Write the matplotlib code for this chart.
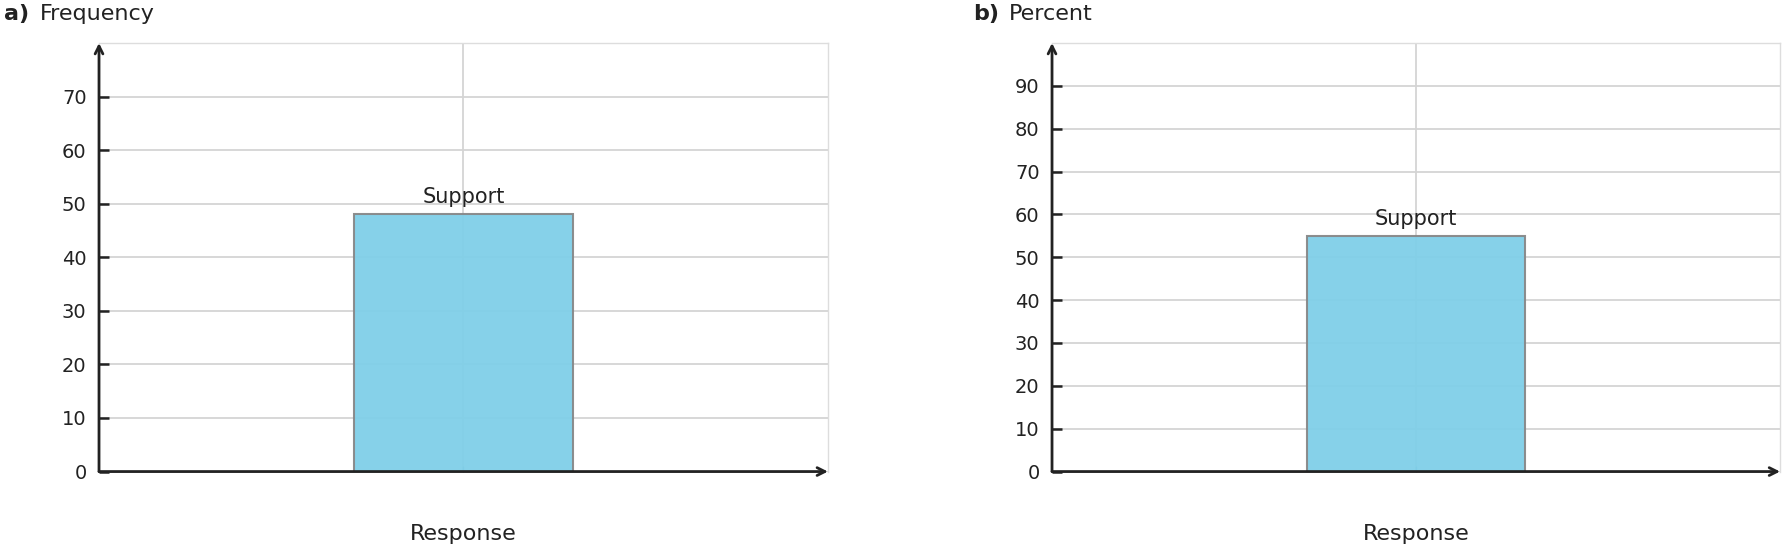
import matplotlib
matplotlib.use("Agg")
import matplotlib.pyplot as plt

plt.rcParams["font.family"] = ["DejaVu Sans"]

# data
categories = ["Support"]
frequency = [48]
percent = [55]
panel_letters = ["a)", "b)"]
panel_titles = ["Frequency", "Percent"]
xlabel = "Response"

ink = "#222222"
bar_color = "#80CFE8"

fig = plt.figure(figsize=(17.84, 5.48), dpi=100)
ax1 = fig.add_axes([0.0555, 0.1395, 0.4086, 0.7820])
ax2 = fig.add_axes([0.5897, 0.1395, 0.4081, 0.7820])

settings = [
    (ax1, frequency, 80, range(0, 80, 10)),
    (ax2, percent, 100, range(0, 100, 10)),
]

for ax, values, ymax, ticks in settings:
    ax.bar(categories, values, width=0.6, color=bar_color, alpha=0.95,
           edgecolor="#888888", linewidth=1.5, zorder=2)
    ax.set_xlim(-1, 1)
    ax.set_ylim(0, ymax)
    ax.set_yticks(list(ticks))
    ax.set_xticks([0])
    ax.set_xticklabels([""])
    ax.grid(True, color="#d4d4d4", linewidth=1.3, zorder=1)
    ax.set_axisbelow(True)
    for s in ["top", "right"]:
        ax.spines[s].set_color("#dddddd")
        ax.spines[s].set_linewidth(1)
    for s in ["left", "bottom"]:
        ax.spines[s].set_visible(False)
    ax.tick_params(axis="y", direction="in", length=7, width=1.8, color=ink,
                   labelsize=14, labelcolor=ink, pad=9)
    ax.tick_params(axis="x", direction="in", length=4, width=1, color="#6aaac4")
    ax.set_xlabel(xlabel, fontsize=16, color=ink, labelpad=34)
    # axis arrows
    ax.annotate("", xy=(0, 1), xytext=(0, 0), xycoords="axes fraction",
                arrowprops=dict(arrowstyle="->", color=ink, lw=2,
                                mutation_scale=14, shrinkA=0, shrinkB=0),
                annotation_clip=False, zorder=5)
    ax.annotate("", xy=(1, 0), xytext=(0, 0), xycoords="axes fraction",
                arrowprops=dict(arrowstyle="->", color=ink, lw=2,
                                mutation_scale=14, shrinkA=0, shrinkB=0),
                annotation_clip=False, zorder=5)
    for i, v in enumerate(values):
        ax.annotate(categories[i], xy=(i, v), xytext=(0, 8), textcoords="offset points",
                    ha="center", va="baseline", fontsize=15, color=ink)

fig.text(4 / 1784, 1 - 20 / 548, panel_letters[0], fontsize=16, fontweight="bold",
         color=ink, va="baseline")
fig.text(40 / 1784, 1 - 20 / 548, panel_titles[0], fontsize=16, color=ink, va="baseline")
fig.text(973 / 1784, 1 - 20 / 548, panel_letters[1], fontsize=16, fontweight="bold",
         color=ink, va="baseline")
fig.text(1009 / 1784, 1 - 20 / 548, panel_titles[1], fontsize=16, color=ink, va="baseline")

fig.savefig("out.png", dpi=100, facecolor="white")
